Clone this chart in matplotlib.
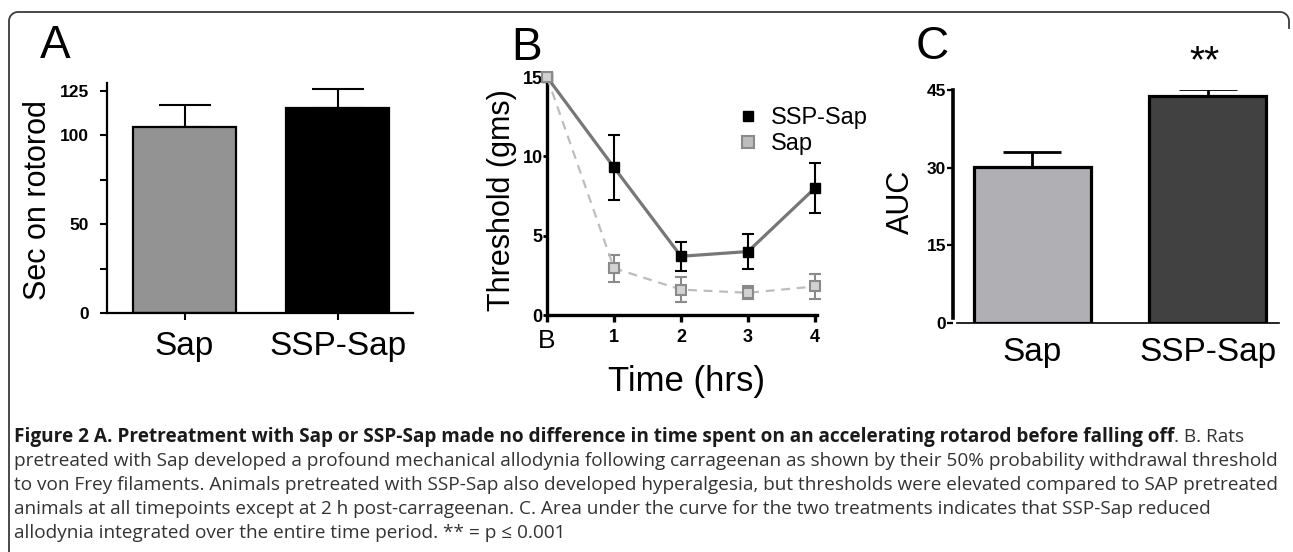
import matplotlib
matplotlib.use("Agg")
import matplotlib.pyplot as plt
import numpy as np
from matplotlib.lines import Line2D

plt.rcParams['font.family'] = ['Liberation Sans', 'DejaVu Sans']

W, H = 1293, 552
fig = plt.figure(figsize=(W/100, H/100), dpi=100)

def fx(x): return x / W
def fy(y): return 1 - y / H

# ---------------- data ----------------
groups = ["Sap", "SSP-Sap"]
rotorod = [104.7, 115.4]
rotorod_err = [12.3, 10.7]

time_labels = ["B", "1", "2", "3", "4"]
ssp_thresh = [15.0, 9.3, 3.7, 4.0, 8.0]
ssp_err = [0.0, 2.05, 0.9, 1.1, 1.6]
sap_thresh = [15.0, 2.95, 1.6, 1.4, 1.8]
sap_err = [0.0, 0.85, 0.8, 0.4, 0.8]

auc = [30.1, 43.8]
auc_err = [2.9, 1.4]

# ---------------- border ----------------
r = 9
pts = []
xl, xr, yt = 9, 1289, 12
pts.append((xl, 552))
for a in np.linspace(180, 90, 12):
    pts.append((xl + r + r*np.cos(np.radians(a)), yt + r - r*np.sin(np.radians(a))))
for a in np.linspace(90, 0, 12):
    pts.append((xr - r + r*np.cos(np.radians(a)), yt + r - r*np.sin(np.radians(a))))
pts.append((xr, 28))
bx = [fx(p[0]) for p in pts]
by = [fy(p[1]) for p in pts]
fig.add_artist(Line2D(bx, by, transform=fig.transFigure, color='#3a3a3a', lw=1.3))

# ---------------- Panel A ----------------
axA = fig.add_axes([fx(107), fy(313), fx(413) - fx(107), (313 - 83) / H])
xpos = np.arange(len(groups))
axA.errorbar(xpos, rotorod, yerr=[[0, 0], rotorod_err], fmt='none', ecolor='black',
             elinewidth=1.5, capsize=18.7, capthick=1.5, zorder=1)
axA.bar(xpos, rotorod, width=0.673, color=['#939393', '#000000'], edgecolor='black',
        linewidth=1.6, zorder=2)
axA.set_xlim(-0.507, 1.493)
axA.set_ylim(0, 129.5)
axA.set_yticks([0, 25, 50, 75, 100, 125])
axA.set_yticklabels(["0", "", "50", "", "100", "125"])
axA.set_xticks(xpos)
axA.set_xticklabels(groups, fontsize=24)
for s in ['top', 'right']:
    axA.spines[s].set_visible(False)
for s in ['left', 'bottom']:
    axA.spines[s].set_linewidth(1.6)
axA.tick_params(axis='y', length=5, width=1.5, labelsize=12.5, pad=8)
axA.tick_params(axis='x', length=5, width=1.5, pad=8)
for t in axA.get_yticklabels():
    t.set_fontweight('bold')
fig.text(fx(38), fy(200), "Sec on rotorod", rotation=90, fontsize=22,
         ha='center', va='center')
fig.text(fx(55), fy(46), "A", fontsize=33, ha='center', va='center')

# ---------------- Panel B ----------------
axB = fig.add_axes([fx(547), fy(315), fx(817) - fx(547), (315 - 77) / H])
tx = np.arange(len(time_labels))
axB.errorbar(tx, ssp_thresh, yerr=ssp_err, fmt='none', ecolor='black',
             elinewidth=1.5, capsize=4, capthick=1.5, zorder=3, clip_on=False)
axB.plot(tx, ssp_thresh, '-', color='#777777', lw=2.3, zorder=2, clip_on=False)
axB.plot(tx, ssp_thresh, 's', color='black', ms=6.5, zorder=4, clip_on=False)
axB.errorbar(tx, sap_thresh, yerr=sap_err, fmt='none', ecolor='#8a8a8a',
             elinewidth=1.5, capsize=4, capthick=1.5, zorder=5, clip_on=False)
axB.plot(tx, sap_thresh, '--', color='#bdbdbd', lw=1.6, dashes=(4, 3), zorder=5,
         clip_on=False)
axB.plot(tx, sap_thresh, 's', mfc='#d2d2d2', mec='#8a8a8a', mew=1.5, ms=7,
         zorder=6, clip_on=False)
axB.set_xlim(0, 4.03)
axB.set_ylim(0, 15.0)
axB.set_yticks([0, 5, 10, 15])
axB.set_xticks(tx)
axB.set_xticklabels(time_labels)
for i, t in enumerate(axB.get_xticklabels()):
    if i == 0:
        t.set_fontsize(19)
    else:
        t.set_fontsize(13)
        t.set_fontweight('bold')
for t in axB.get_yticklabels():
    t.set_fontweight('bold')
    t.set_fontsize(13)
for s in ['top', 'right']:
    axB.spines[s].set_visible(False)
for s in ['left', 'bottom']:
    axB.spines[s].set_linewidth(2.4)
axB.tick_params(axis='y', length=3, width=2, pad=0)
axB.tick_params(axis='x', length=5, width=2.4, pad=5)
handles = [Line2D([], [], marker='s', ls='none', color='black', ms=7),
           Line2D([], [], marker='s', ls='none', mfc='#bdbdbd', mec='#8a8a8a',
                  mew=1.5, ms=8)]
fig.legend(handles, ["SSP-Sap", "Sap"], loc='upper left',
           bbox_to_anchor=(fx(717), fy(86)), frameon=False, fontsize=17,
           handlelength=0.8, handletextpad=0.6, labelspacing=0.15)
fig.text(fx(502), fy(200), "Threshold (gms)", rotation=90, fontsize=22,
         ha='center', va='center')
fig.text(fx(687), fy(382), "Time (hrs)", fontsize=25, ha='center', va='center')
fig.text(fx(527), fy(48), "B", fontsize=33, ha='center', va='center')

# ---------------- Panel C ----------------
axC = fig.add_axes([fx(953), fy(323), fx(1279) - fx(953), (323 - 90) / H])
axC.errorbar(xpos, auc, yerr=[[0, 0], auc_err], fmt='none', ecolor='black',
             elinewidth=2, capsize=21, capthick=2, zorder=1)
axC.bar(xpos, auc, width=0.667, color=['#b0afb4', '#414141'], edgecolor='black',
        linewidth=2.3, zorder=2)
axC.set_xlim(-0.453, 1.405)
axC.set_ylim(0, 45)
axC.set_yticks([0, 15, 30, 45])
axC.set_xticks(xpos)
axC.set_xticklabels(groups, fontsize=24)
for t in axC.get_yticklabels():
    t.set_fontweight('bold')
    t.set_fontsize(12.5)
for s in ['top', 'right']:
    axC.spines[s].set_visible(False)
axC.spines['left'].set_linewidth(2.6)
axC.spines['left'].set_bounds(1.0, 45)
axC.spines['bottom'].set_linewidth(1.2)
axC.spines['bottom'].set_bounds(-0.43, 1.405)
axC.tick_params(axis='y', length=4, width=1.6, pad=1)
axC.tick_params(axis='x', length=0, pad=10)
fig.text(fx(901), fy(202), "AUC", rotation=90, fontsize=22, ha='center', va='center')
fig.text(fx(932), fy(47), "C", fontsize=33, ha='center', va='center')
fig.text(fx(1205), fy(62), "**", fontsize=28, ha='center', va='center')

# ---------------- Caption ----------------
cap_font = ['Open Sans', 'DejaVu Sans']
cap_bold = "Figure 2 A. Pretreatment with Sap or SSP-Sap made no difference in time spent on an accelerating rotarod before falling off"
cap_rest1 = ". B. Rats"
cap_lines = [
    "pretreated with Sap developed a profound mechanical allodynia following carrageenan as shown by their 50% probability withdrawal threshold",
    "to von Frey filaments. Animals pretreated with SSP-Sap also developed hyperalgesia, but thresholds were elevated compared to SAP pretreated",
    "animals at all timepoints except at 2 h post-carrageenan. C. Area under the curve for the two treatments indicates that SSP-Sap reduced",
    "allodynia integrated over the entire time period. ** = p \u2264 0.001",
]
renderer = fig.canvas.get_renderer()
x0 = 14
probe = fig.text(0, 0, cap_lines[0], fontsize=13, family=cap_font)
wprobe = probe.get_window_extent(renderer).width
probe.remove()
cfs = 13 * (1277 - x0) / wprobe
line_y = [437, 461, 485, 509, 533]
tb = fig.text(fx(x0), fy(line_y[0]), cap_bold, fontsize=cfs, family=cap_font,
              fontweight='bold', color='#1a1a1a', va='center', ha='left')
bw = tb.get_window_extent(renderer).width
fig.text(fx(x0 + bw), fy(line_y[0]), cap_rest1, fontsize=cfs, family=cap_font,
         color='#333333', va='center', ha='left')
for ln, yy in zip(cap_lines, line_y[1:]):
    fig.text(fx(x0), fy(yy), ln, fontsize=cfs, family=cap_font, color='#333333',
             va='center', ha='left')

fig.savefig("out.png", dpi=100)
